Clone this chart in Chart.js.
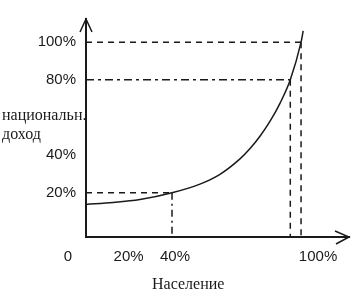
<!DOCTYPE html>
<html lang="ru">
<head>
    <meta charset="UTF-8">
    <title>Национальный доход и население</title>
    <script src="https://cdn.jsdelivr.net/npm/chart.js"></script>
    <style>
        body {
            margin: 0;
            background: white;
        }
        canvas {
            display: block;
        }
    </style>
</head>
<body>
<canvas id="lorenzChart" width="355" height="302"></canvas>

<script>
    // curve (x = население %, y = доход %)
    const curveX = [0, 12.6, 25.1, 40, 53, 62.3, 71.6, 76.3, 80.9, 85.6, 90.2, 95, 100, 101];
    const curveY = [13.8, 14.8, 16.4, 20, 24.6, 29.8, 38, 43.5, 50, 58, 67.5, 80, 100, 106];

    // dashed guides: point on the curve -> both axes
    const guideX = [40, 95, 100];
    const guideY = [20, 80, 100];

    // tick labels and where they sit in the picture
    const xTickPos = [-8.4, 19.8, 41.4, 107.9];
    const xTickLabels = ['0', '20%', '40%', '100%'];
    const yTickPos = [20, 40, 80, 100];
    const yTickLabels = ['20%', '40%', '80%', '100%'];

    const X_MIN = 0, X_MAX = 122.3;
    const Y_MIN = -3.5, Y_MAX = 112.3;

    const ink = '#1a1a1a';

    // dash of the horizontal / vertical part of each guide
    const dashH = [[6, 5], [8, 4, 3, 4], [6, 5]];
    const dashV = [[7, 4, 2, 4], [6, 5], [6, 5]];

    function guideLine(points, dash) {
        return {
            data: points,
            borderColor: ink,
            borderWidth: 1.5,
            borderDash: dash,
            pointRadius: 0,
            fill: false,
            tension: 0
        };
    }

    const guideSets = [];
    guideX.forEach((gx, i) => {
        guideSets.push(guideLine([{x: X_MIN, y: guideY[i]}, {x: gx, y: guideY[i]}], dashH[i]));
        guideSets.push(guideLine([{x: gx, y: guideY[i]}, {x: gx, y: Y_MIN}], dashV[i]));
    });

    const axisArrows = {
        id: 'axisArrows',
        afterDraw(chart) {
            const c = chart.ctx;
            const a = chart.chartArea;
            c.save();
            c.strokeStyle = ink;
            c.lineWidth = 1.5;
            // top arrow on y axis
            c.beginPath();
            c.moveTo(a.left - 6, a.top + 13);
            c.lineTo(a.left, a.top);
            c.lineTo(a.left + 6, a.top + 13);
            c.stroke();
            // right arrow on x axis
            c.beginPath();
            c.moveTo(a.right - 14, a.bottom - 6);
            c.lineTo(a.right, a.bottom);
            c.lineTo(a.right - 13, a.bottom + 7);
            c.stroke();

            // axis titles
            c.fillStyle = ink;
            c.font = '16px "Liberation Serif"';
            c.textBaseline = 'middle';
            c.textAlign = 'left';
            c.fillText('национальн.', 2, 116);
            c.fillText('доход', 2, 135);
            c.fillText('Население', 152, 285);
            c.restore();
        }
    };

    const ctx = document.getElementById('lorenzChart').getContext('2d');

    new Chart(ctx, {
        type: 'line',
        data: {
            datasets: [
                {
                    data: curveX.map((x, i) => ({x: x, y: curveY[i]})),
                    borderColor: ink,
                    borderWidth: 1.5,
                    pointRadius: 0,
                    fill: false,
                    cubicInterpolationMode: 'monotone'
                },
                ...guideSets
            ]
        },
        options: {
            responsive: false,
            animation: false,
            devicePixelRatio: 1,
            layout: {
                padding: {top: 15, right: 6, bottom: 0, left: 0}
            },
            plugins: {
                legend: {display: false},
                tooltip: {enabled: false}
            },
            scales: {
                x: {
                    type: 'linear',
                    min: X_MIN,
                    max: X_MAX,
                    afterFit: s => { s.height = 65; },
                    afterBuildTicks: s => { s.ticks = xTickPos.map(v => ({value: v})); },
                    ticks: {
                        autoSkip: false,
                        maxRotation: 0,
                        padding: 11,
                        color: ink,
                        font: {family: '"Liberation Sans"', size: 15},
                        callback: (v, i) => xTickLabels[i]
                    },
                    grid: {display: false, drawTicks: false},
                    border: {display: true, color: ink, width: 2}
                },
                y: {
                    type: 'linear',
                    min: Y_MIN,
                    max: Y_MAX,
                    afterFit: s => { s.width = 86; },
                    afterBuildTicks: s => { s.ticks = yTickPos.map(v => ({value: v})); },
                    ticks: {
                        autoSkip: false,
                        padding: 10,
                        color: ink,
                        font: {family: '"Liberation Sans"', size: 15},
                        callback: (v, i) => yTickLabels[i]
                    },
                    grid: {display: false, drawTicks: false},
                    border: {display: true, color: ink, width: 2}
                }
            }
        },
        plugins: [axisArrows]
    });
</script>
</body>
</html>
